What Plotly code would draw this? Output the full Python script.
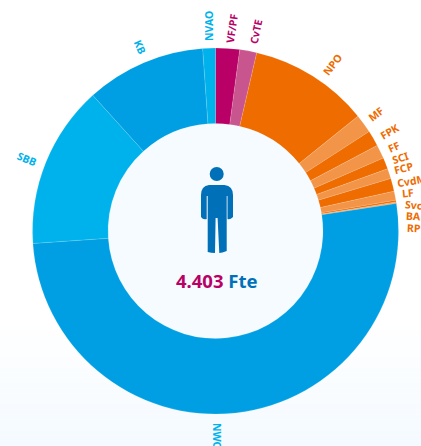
import math
import plotly.graph_objects as go

W, H = 421, 446

# Data (Fte)
categories = ["VF/PF", "CvTE", "NPO", "MF", "FPK", "FF", "SCI", "FCP", "CvdM", "LF", "Svc", "BA", "RP",
              "NWC", "SBB", "KB", "NVAO"]
values = [93, 66, 465, 73, 61, 54, 44, 39, 50, 35, 7, 4, 2, 2255, 632, 465, 49]
total_label = "4.403"
unit_label = "Fte"

MAGENTA, MAGENTA_L = "#b90066", "#c9558e"
ORANGE, ORANGE_L = "#ef6c00", "#f29548"
BLUE, BLUE_L = "#009fe3", "#00b2ec"
ICON = "#0070b8"

colors = [MAGENTA, MAGENTA_L, ORANGE, ORANGE_L, ORANGE, ORANGE_L, ORANGE, ORANGE_L, ORANGE, ORANGE_L,
          ORANGE, ORANGE_L, ORANGE, BLUE, BLUE_L, BLUE, BLUE_L]
label_colors = [MAGENTA] * 2 + [ORANGE] * 11 + [BLUE_L, BLUE_L, BLUE_L, BLUE_L]

CX, CY, R_OUT, R_IN = 215.5, 231.0, 183.0, 107.5


def px(x):
    return x / W


def py(y):
    return 1 - y / H


fig = go.Figure(go.Pie(
    labels=categories, values=values, sort=False, direction="clockwise", rotation=0,
    hole=R_IN / R_OUT, textinfo="none", showlegend=False, hoverinfo="label+value",
    marker=dict(colors=colors, line=dict(color="rgba(255,255,255,0.3)", width=0.4)),
    domain=dict(x=[px(CX - R_OUT), px(CX + R_OUT)], y=[py(CY + R_OUT), py(CY - R_OUT)]),
))

# Outside labels: placed from each slice's mid-angle; crowded ones get a spread position and a turned angle.
label_overrides = {  # label: (x px, y px, rotation)
    "VF/PF": (232, 28, -82), "CvTE": (256, 32, -78), "NPO": (332, 65, -52),
    "MF": (376, 114, -38), "FPK": (389, 132, -30), "FF": (394, 147, -24), "SCI": (400, 158, -18),
    "FCP": (404, 168, -14), "CvdM": (411, 181, -10), "LF": (408, 193, -6), "Svc": (414, 205, 5),
    "BA": (413, 216, 3), "RP": (414, 228, 3), "NWC": (217, 436, 90), "SBB": (27, 159, 22),
    "KB": (140, 47, 65), "NVAO": (209, 26, -90),
}
annotations = []
tot = sum(values)
acc = 0.0
for name, v, c in zip(categories, values, label_colors):
    mid = (acc + v / 2) / tot * 360
    acc += v
    a = math.radians(mid)
    x = CX + 204 * math.sin(a)
    y = CY - 204 * math.cos(a)
    rot = mid - 90 if mid < 180 else mid - 270
    if name in label_overrides:
        x, y, rot = label_overrides[name]
    annotations.append(dict(
        text=f"<b>{name}</b>", x=px(x), y=py(y), xref="paper", yref="paper", showarrow=False,
        textangle=rot, xanchor="center", yanchor="middle",
        font=dict(family="Noto Sans", size=10.5, color=c)))

annotations.append(dict(
    text=f'<b><span style="color:{MAGENTA}">{total_label}</span> <span style="color:{ICON}">{unit_label}</span></b>',
    x=px(216.5), y=py(280), xref="paper", yref="paper", showarrow=False, xanchor="center", yanchor="middle",
    font=dict(family="Noto Sans", size=18.5)))

shapes = []
# Soft page gradient toward the bottom
g0 = 320
n = 24
for i in range(n):
    t = (i + 1) / n
    col = f"rgb({255 - round(11 * t)},{255 - round(5 * t)},255)"
    y0 = g0 + (H - g0) * i / n
    y1 = g0 + (H - g0) * (i + 1) / n
    shapes.append(dict(type="rect", xref="paper", yref="paper", x0=0, x1=1, y0=py(y0), y1=py(y1),
                       fillcolor=col, line_width=0, layer="below"))
# Hole fill
shapes.append(dict(type="circle", xref="paper", yref="paper",
                   x0=px(CX - R_IN - 1), x1=px(CX + R_IN + 1), y0=py(CY + R_IN + 1), y1=py(CY - R_IN - 1),
                   fillcolor="#f5fbff", line_width=0, layer="below"))
# Person icon
shapes.append(dict(type="circle", xref="paper", yref="paper",
                   x0=px(209.7), x1=px(223.7), y0=py(181), y1=py(167),
                   fillcolor=ICON, line_width=0))
body = [("M", 209, 185), ("L", 224.5, 185), ("Q", 233, 186, 233, 195), ("L", 233, 217),
        ("Q", 230, 220, 227.5, 219), ("L", 227.5, 196), ("L", 226.7, 196), ("L", 226.7, 251),
        ("Q", 222, 253, 219.3, 253), ("L", 217.6, 218), ("L", 215.6, 218), ("L", 215, 253),
        ("Q", 211, 253, 207.7, 252), ("L", 207.7, 196), ("L", 206.7, 196), ("L", 206.7, 219),
        ("Q", 203, 220, 201, 217), ("L", 201, 195), ("Q", 201, 186, 209, 185)]
parts = []
for seg in body:
    coords = seg[1:]
    pts = [f"{px(coords[i])} {py(coords[i + 1])}" for i in range(0, len(coords), 2)]
    parts.append(seg[0] + " " + " ".join(pts))
shapes.append(dict(type="path", xref="paper", yref="paper", path=" ".join(parts) + " Z",
                   fillcolor=ICON, line_width=0))

fig.update_layout(width=W, height=H, margin=dict(l=0, r=0, t=0, b=0), paper_bgcolor="white",
                  shapes=shapes, annotations=annotations, showlegend=False)
fig.write_html("out.html", config={"displayModeBar": False},
               post_script="document.body.style.margin='0';document.body.style.overflow='hidden';")
